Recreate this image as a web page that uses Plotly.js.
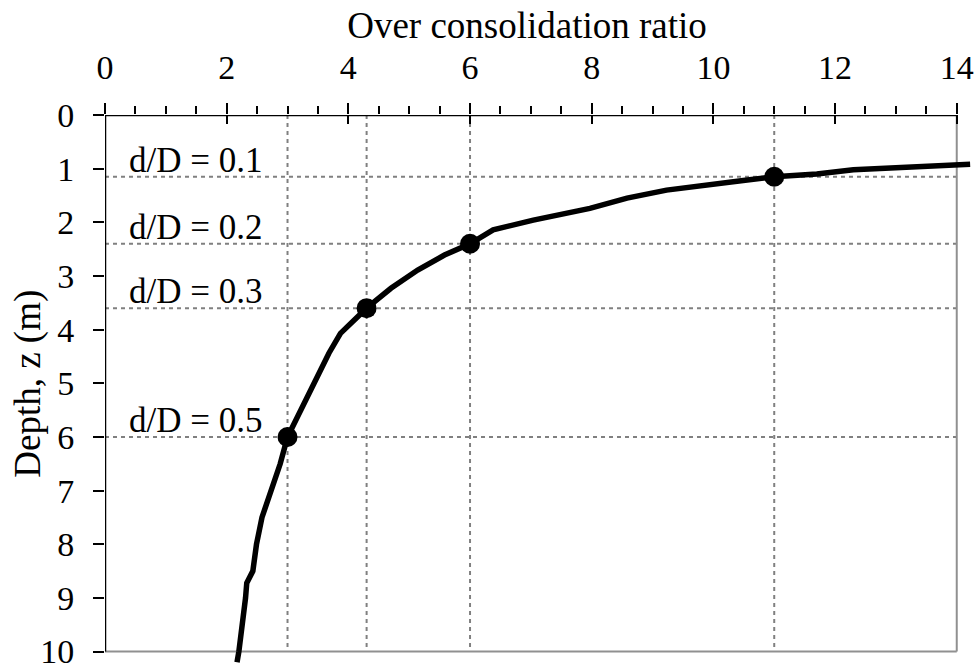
<!DOCTYPE html>
<html>
<head>
<meta charset="utf-8">
<script src="https://cdn.plot.ly/plotly-3.0.1.min.js"></script>
<style>html,body{margin:0;padding:0;background:#fff;}#chart{width:976px;height:670px;}</style>
</head>
<body>
<div id="chart"></div>
<script>
// Curve: over consolidation ratio (x) vs depth z (m)
var ocr   = [14.22, 14.0, 13.34, 12.63, 12.3, 11.7, 11.43, 11.0, 10.49, 10.0, 9.23, 8.58, 7.97, 7.04, 6.38, 6.0, 5.58, 5.14, 4.7, 4.3, 3.87, 3.68, 3.41, 3.21, 3.0, 2.88, 2.72, 2.58, 2.49, 2.43, 2.33, 2.31, 2.2, 2.17];
var depth = [0.92, 0.93, 0.96, 1.01, 1.02, 1.10, 1.12, 1.15, 1.22, 1.29, 1.40, 1.55, 1.74, 1.96, 2.14, 2.4, 2.61, 2.89, 3.23, 3.6, 4.07, 4.44, 5.06, 5.5, 6.0, 6.5, 7.0, 7.5, 8.0, 8.5, 8.72, 9.0, 10.0, 10.2];

// Marked points (d/D ratios)
var ptOcr   = [11.0, 6.0, 4.3, 3.0];
var ptDepth = [1.15, 2.4, 3.6, 6.0];
var ptLabels = ['d/D = 0.1', 'd/D = 0.2', 'd/D = 0.3', 'd/D = 0.5'];

// Axes
var xTicks = [0, 2, 4, 6, 8, 10, 12, 14];
var yTicks = [0, 1, 2, 3, 4, 5, 6, 7, 8, 9, 10];
var xMax = 14, yMax = 10;

var FONT = 'Liberation Serif, Times New Roman, serif';

var traces = [
  {x: ocr, y: depth, type: 'scatter', mode: 'lines', xaxis: 'x', yaxis: 'y',
   line: {color: '#000', width: 5.5}, hoverinfo: 'skip'},
  {x: ptOcr, y: ptDepth, type: 'scatter', mode: 'markers', xaxis: 'x2', yaxis: 'y',
   marker: {color: '#000', size: 20}, hoverinfo: 'skip'}
];

var shapes = [];
// dotted reference lines
for (var i = 0; i < ptOcr.length; i++) {
  shapes.push({type: 'line', xref: 'x', yref: 'y', x0: ptOcr[i], x1: ptOcr[i], y0: 0, y1: yMax,
    line: {color: '#808080', width: 2, dash: '4px,4px'}, layer: 'below'});
  shapes.push({type: 'line', xref: 'x', yref: 'y', x0: 0, x1: xMax, y0: ptDepth[i], y1: ptDepth[i],
    line: {color: '#808080', width: 2, dash: '4px,4px'}, layer: 'below'});
}
// frame
shapes.push({type: 'line', xref: 'x', yref: 'y', x0: xMax, x1: xMax, y0: 0, y1: yMax, line: {color: '#909090', width: 2}, layer: 'below'});
shapes.push({type: 'line', xref: 'x', yref: 'y', x0: 0, x1: xMax, y0: yMax, y1: yMax, line: {color: '#909090', width: 2}, layer: 'below'});
shapes.push({type: 'line', xref: 'x', yref: 'y', x0: 0, x1: xMax, y0: 0, y1: 0, line: {color: '#000', width: 2.5}, layer: 'above'});
shapes.push({type: 'line', xref: 'x', yref: 'y', x0: 0, x1: 0, y0: 0, y1: yMax, line: {color: '#000', width: 2.5}, layer: 'above'});

var annotations = [];
for (var j = 0; j < ptLabels.length; j++) {
  annotations.push({x: 0.36, y: ptDepth[j], xref: 'x', yref: 'y', text: ptLabels[j], showarrow: false,
    xanchor: 'left', yanchor: 'bottom', yshift: -5, font: {family: FONT, size: 35, color: '#000'}});
}
annotations.push({x: -0.088, xref: 'paper', y: 5, yref: 'y', text: 'Depth, z (m)', textangle: -90, showarrow: false,
  xanchor: 'center', yanchor: 'middle', font: {family: FONT, size: 37, color: '#000'}});

var layout = {
  width: 976, height: 670,
  margin: {l: 105, r: 1, t: 115, b: 5},
  paper_bgcolor: '#fff', plot_bgcolor: 'rgba(0,0,0,0)',
  showlegend: false,
  font: {family: FONT, size: 34, color: '#000'},
  title: {text: 'Over consolidation ratio', x: 0.54, xanchor: 'center', y: 0.962, yanchor: 'middle', yref: 'container',
          font: {family: FONT, size: 37, color: '#000'}},
  xaxis: {range: [0, 14.3], side: 'top', anchor: 'y', tickmode: 'array', tickvals: xTicks, ticktext: xTicks.map(String),
          ticks: 'outside', ticklen: 11, tickwidth: 2, tickcolor: '#000', ticklabelstandoff: 10,
          minor: {dtick: 0.5, tick0: 0, ticks: 'outside', ticklen: 8, tickwidth: 2, tickcolor: '#000', showgrid: false},
          showline: false, showgrid: false, zeroline: false, tickfont: {family: FONT, size: 34, color: '#000'}},
  xaxis2: {range: [0, 14.3], overlaying: 'x', side: 'top', anchor: 'y', tickmode: 'array', tickvals: xTicks,
           ticks: 'inside', ticklen: 9, tickwidth: 2, tickcolor: '#000', showticklabels: false,
           showline: false, showgrid: false, zeroline: false},
  yaxis: {range: [10.25, 0], tickmode: 'array', tickvals: yTicks, ticktext: yTicks.map(String),
          ticks: 'outside', ticklen: 11, tickwidth: 2, tickcolor: '#000', ticklabelstandoff: 12,
          ticklabeloverflow: 'allow',
          showline: false, showgrid: false, zeroline: false, tickfont: {family: FONT, size: 34, color: '#000'}},
  shapes: shapes,
  annotations: annotations
};

Plotly.newPlot('chart', traces, layout, {staticPlot: true, displayModeBar: false});
</script>
</body>
</html>
